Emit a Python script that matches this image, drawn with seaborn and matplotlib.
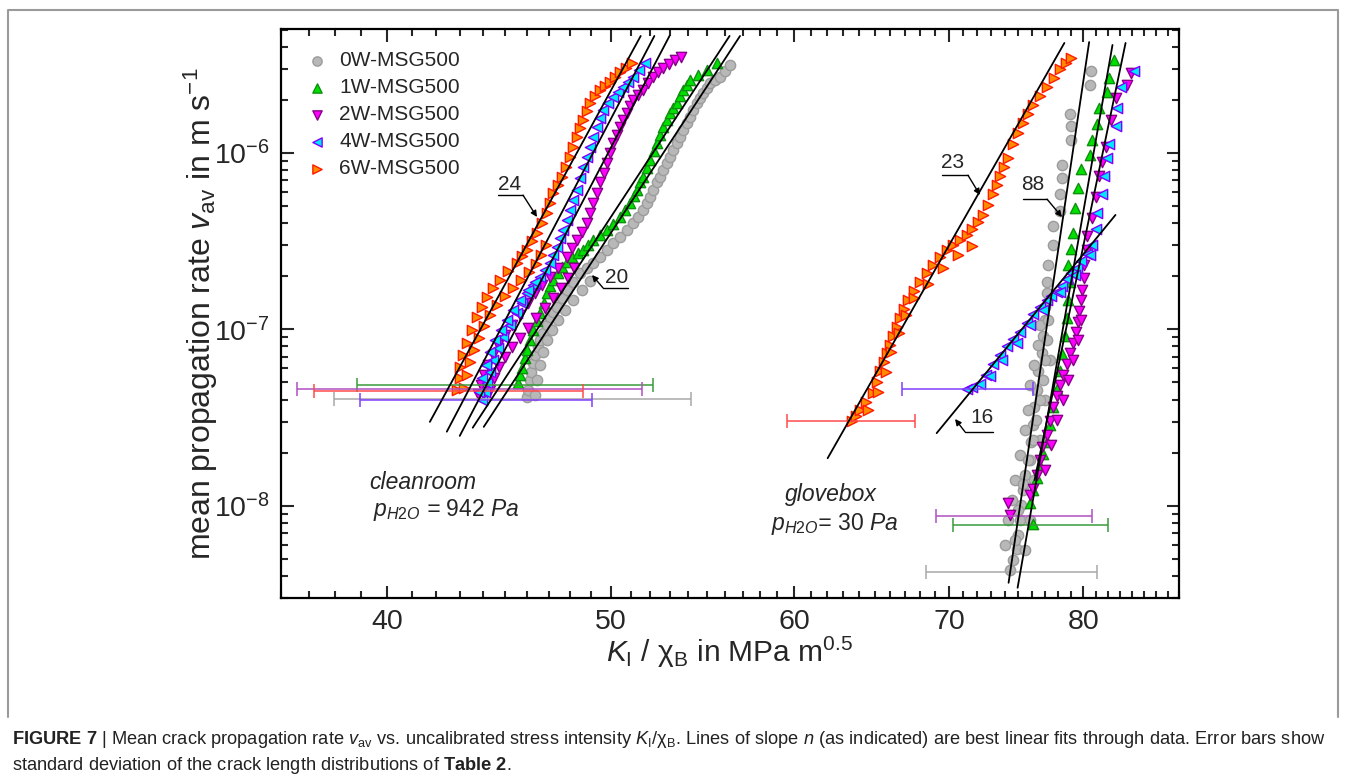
import numpy as np
import seaborn as sns
import matplotlib.pyplot as plt
from matplotlib.lines import Line2D
from matplotlib.ticker import FixedLocator, FixedFormatter, NullFormatter, LogLocator

# K_I / chi_B in MPa m^0.5 and v_av in m/s
# cleanroom, p_H2O = 942 Pa
k_c_0w = [45.98, 46.03, 46.12, 46.17, 46.26, 46.34, 46.48, 46.58, 46.72, 46.90, 47.04, 47.18, 47.37, 47.61,
          47.84, 48.13, 48.47, 48.81, 49.10, 49.44, 49.79, 50.08, 50.43, 50.78, 51.09, 51.35, 51.60, 51.81,
          51.96, 52.12, 52.33, 52.48, 52.64, 52.85, 53.00, 53.17, 53.38, 53.54, 53.70, 53.92, 54.07, 54.24,
          54.46, 54.61, 54.78, 55.00, 55.16, 55.44, 55.71, 55.98, 56.26,
          46.34, 46.44, 46.58, 46.72, 46.90, 47.14, 47.42, 47.74, 48.13, 48.56, 48.95]
v_c_0w = [4.15e-8, 4.54e-8, 5.18e-8, 5.74e-8, 6.46e-8, 7.17e-8, 7.97e-8, 8.72e-8, 9.55e-8, 1.06e-7, 1.18e-7,
          1.26e-7, 1.34e-7, 1.51e-7, 1.67e-7, 1.86e-7, 2.09e-7, 2.23e-7, 2.38e-7, 2.57e-7, 2.82e-7, 3.09e-7,
          3.34e-7, 3.66e-7, 4.01e-7, 4.34e-7, 4.75e-7, 5.21e-7, 5.63e-7, 6.2e-7, 6.8e-7, 7.3e-7, 8.0e-7,
          8.8e-7, 9.5e-7, 1.04e-6, 1.14e-6, 1.23e-6, 1.35e-6, 1.48e-6, 1.60e-6, 1.75e-6, 1.92e-6, 2.05e-6,
          2.19e-6, 2.33e-6, 2.49e-6, 2.59e-6, 2.70e-6, 2.92e-6, 3.15e-6,
          4.26e-8, 5.18e-8, 6.29e-8, 7.45e-8, 8.72e-8, 9.93e-8, 1.13e-7, 1.29e-7, 1.47e-7, 1.67e-7, 1.88e-7]
k_c_1w = [45.56, 45.66, 45.75, 45.88, 45.98, 46.12, 46.26, 46.44, 46.58, 46.76, 46.90, 47.04, 47.18, 47.42,
          47.61, 47.84, 48.08, 48.37, 48.61, 48.86, 49.10, 49.44, 49.79, 50.08, 50.43, 50.69, 50.94, 51.14,
          51.29, 51.44, 51.60, 51.81, 51.96, 52.17, 52.33, 52.48, 52.64, 52.85, 53.00, 53.17, 53.38, 53.54,
          53.70, 53.92, 54.07, 54.51, 55.00, 55.55]
v_c_1w = [4.98e-8, 5.52e-8, 6.05e-8, 6.89e-8, 7.66e-8, 8.72e-8, 9.93e-8, 1.12e-7, 1.24e-7, 1.41e-7, 1.61e-7,
          1.76e-7, 1.91e-7, 2.09e-7, 2.26e-7, 2.41e-7, 2.57e-7, 2.71e-7, 2.82e-7, 3.01e-7, 3.22e-7, 3.43e-7,
          3.66e-7, 3.96e-7, 4.34e-7, 4.75e-7, 5.21e-7, 5.71e-7, 6.2e-7, 6.8e-7, 7.3e-7, 8.22e-7, 9.1e-7,
          1.03e-6, 1.14e-6, 1.26e-6, 1.40e-6, 1.54e-6, 1.69e-6, 1.80e-6, 1.92e-6, 2.10e-6, 2.28e-6, 2.43e-6,
          2.59e-6, 2.77e-6, 2.95e-6, 3.24e-6]
k_c_2w = [43.79, 43.92, 44.05, 44.23, 44.45, 44.67, 44.98, 45.30, 45.66, 46.03, 46.34, 46.67, 47.04, 47.42,
          47.84, 48.08, 48.32, 48.56, 48.81, 48.95, 49.10, 49.29, 49.44, 49.63, 49.78, 49.93, 50.08, 50.28,
          50.43, 50.59, 50.78, 50.94, 51.09, 51.35, 51.60, 51.86, 52.12, 52.38, 52.64, 52.96, 53.28, 53.60,
          44.32, 44.49, 44.72, 44.98, 45.30, 45.66, 46.03, 46.39, 46.81, 47.18, 47.55, 47.89, 48.17]
v_c_2w = [4.31e-8, 4.85e-8, 5.52e-8, 6.29e-8, 7.17e-8, 8.17e-8, 9.31e-8, 1.06e-7, 1.21e-7, 1.41e-7, 1.61e-7,
          1.79e-7, 1.98e-7, 2.23e-7, 2.57e-7, 2.90e-7, 3.22e-7, 3.57e-7, 4.01e-7, 4.57e-7, 5.21e-7, 5.9e-7,
          6.8e-7, 7.70e-7, 8.8e-7, 1.0e-6, 1.14e-6, 1.26e-6, 1.40e-6, 1.54e-6, 1.69e-6, 1.85e-6, 2.00e-6,
          2.13e-6, 2.28e-6, 2.49e-6, 2.70e-6, 2.88e-6, 3.03e-6, 3.19e-6, 3.37e-6, 3.50e-6,
          4.54e-8, 5.31e-8, 6.13e-8, 6.98e-8, 7.97e-8, 8.95e-8, 1.02e-7, 1.16e-7, 1.32e-7, 1.51e-7, 1.72e-7,
          1.96e-7, 2.23e-7]
k_c_4w = [43.96, 44.09, 44.18, 44.32, 44.45, 44.67, 44.89, 45.21, 45.52, 45.75, 45.98, 46.25, 46.58, 46.81,
          47.04, 47.18, 47.37, 47.51, 47.65, 47.84, 47.98, 48.13, 48.32, 48.47, 48.61, 48.81, 48.95, 49.10,
          49.29, 49.44, 49.59, 49.84, 50.08, 50.33, 50.59, 50.84, 51.09, 51.40, 51.71,
          43.83, 43.96, 44.14, 44.32, 44.53, 44.80, 45.07, 45.34, 45.66, 46.03, 46.34]
v_c_4w = [3.99e-8, 4.42e-8, 4.98e-8, 5.74e-8, 6.72e-8, 7.86e-8, 9.07e-8, 1.06e-7, 1.24e-7, 1.41e-7, 1.61e-7,
          1.79e-7, 1.98e-7, 2.17e-7, 2.38e-7, 2.64e-7, 2.93e-7, 3.30e-7, 3.66e-7, 4.17e-7, 4.75e-7, 5.42e-7,
          6.2e-7, 7.2e-7, 8.3e-7, 9.5e-7, 1.08e-6, 1.23e-6, 1.40e-6, 1.58e-6, 1.75e-6, 1.92e-6, 2.08e-6,
          2.22e-6, 2.37e-6, 2.53e-6, 2.70e-6, 2.95e-6, 3.24e-6,
          4.42e-8, 5.31e-8, 6.29e-8, 7.45e-8, 8.72e-8, 9.93e-8, 1.13e-7, 1.29e-7, 1.47e-7, 1.67e-7, 1.86e-7]
k_c_6w = [42.88, 43.01, 43.01, 43.14, 43.32, 43.53, 43.75, 43.96, 44.18, 44.45, 44.76, 45.12, 45.52, 45.75,
          45.98, 46.21, 46.44, 46.67, 46.90, 47.04, 47.18, 47.42, 47.61, 47.80, 47.98, 48.13, 48.32, 48.47,
          48.61, 48.81, 48.95, 49.20, 49.44, 49.69, 49.93, 50.18, 50.43, 50.73, 51.04,
          43.18, 43.32, 43.44, 43.61, 43.83, 44.05, 44.32, 44.62, 44.98, 45.34, 45.70, 46.07, 46.39, 46.62,
          46.86]
v_c_6w = [4.54e-8, 5.31e-8, 6.13e-8, 7.17e-8, 8.39e-8, 9.93e-8, 1.18e-7, 1.34e-7, 1.53e-7, 1.72e-7, 1.91e-7,
          2.14e-7, 2.38e-7, 2.61e-7, 2.82e-7, 3.17e-7, 3.52e-7, 4.01e-7, 4.57e-7, 5.21e-7, 5.9e-7, 6.59e-7,
          7.3e-7, 8.3e-7, 9.5e-7, 1.08e-6, 1.23e-6, 1.38e-6, 1.54e-6, 1.73e-6, 1.92e-6, 2.10e-6, 2.28e-6,
          2.40e-6, 2.53e-6, 2.70e-6, 2.88e-6, 3.03e-6, 3.24e-6,
          4.66e-8, 5.52e-8, 6.54e-8, 7.66e-8, 8.95e-8, 1.05e-7, 1.21e-7, 1.38e-7, 1.55e-7, 1.72e-7, 1.91e-7,
          2.12e-7, 2.35e-7, 2.64e-7, 3.01e-7]

# glovebox, p_H2O = 30 Pa
k_g_0w = [74.35, 74.57, 74.86, 74.94, 75.09, 75.23, 75.31, 75.53, 75.84, 75.98, 76.07, 76.21, 76.37, 76.51,
          76.75, 76.83, 76.98, 76.98, 77.13, 77.13, 77.21, 77.59, 77.59, 78.14, 78.14, 78.29, 78.29, 79.07,
          79.07, 78.92, 80.50, 80.66,
          73.97, 74.20, 74.49, 74.72, 75.09, 75.46, 75.69, 75.84, 76.21, 76.44, 76.60,
          75.46, 75.84, 76.21, 76.60, 76.98, 77.36,
          74.72, 74.94, 75.31, 75.69, 76.07, 76.29, 76.60, 76.83, 76.98, 77.13, 77.21]
v_g_0w = [4.34e-9, 4.94e-9, 5.70e-9, 6.85e-9, 8.33e-9, 1.01e-8, 1.23e-8, 1.50e-8, 1.82e-8, 2.31e-8, 2.88e-8,
          3.64e-8, 4.54e-8, 5.82e-8, 7.36e-8, 9.19e-8, 1.13e-7, 1.34e-7, 1.61e-7, 1.86e-7, 2.32e-7, 3.01e-7,
          3.86e-7, 4.69e-7, 5.86e-7, 7.2e-7, 8.55e-7, 1.19e-6, 1.42e-6, 1.66e-6, 2.43e-6, 2.92e-6,
          6.01e-9, 8.33e-9, 1.08e-8, 1.40e-8, 1.95e-8, 2.70e-8, 3.50e-8, 4.85e-8, 6.29e-8, 8.17e-8, 1.06e-7,
          5.63e-9, 8.33e-9, 1.40e-8, 2.37e-8, 3.99e-8, 6.72e-8,
          6.42e-9, 9.49e-9, 1.32e-8, 1.82e-8, 2.37e-8, 3.07e-8, 3.99e-8, 5.18e-8, 6.72e-8, 8.72e-8, 1.13e-7]
k_g_1w = [76.07, 75.84, 76.07, 76.37, 76.60, 76.83, 77.13, 77.36, 77.59, 77.90, 78.14, 78.29, 78.53, 78.68,
          78.76, 78.92, 78.76, 79.00, 79.15, 79.31, 79.62, 79.86, 80.50, 80.74, 81.14, 81.30, 81.95, 82.11,
          82.52]
v_g_1w = [7.9e-9, 1.03e-8, 1.23e-8, 1.44e-8, 1.68e-8, 1.97e-8, 2.31e-8, 2.88e-8, 3.64e-8, 4.60e-8, 5.82e-8,
          7.26e-8, 9.19e-8, 1.16e-7, 1.47e-7, 1.86e-7, 2.32e-7, 2.86e-7, 3.52e-7, 4.88e-7, 6.33e-7, 8.1e-7,
          9.7e-7, 1.19e-6, 1.46e-6, 1.80e-6, 2.22e-6, 2.66e-6, 3.37e-6]
k_g_2w = [74.20, 74.35, 75.84, 76.07, 76.37, 76.60, 76.82, 77.13, 77.36, 77.59, 77.90, 78.14, 78.37, 78.68,
          78.92, 79.15, 79.39, 79.55, 79.70, 79.86, 79.94, 80.10, 80.10, 80.26, 80.26, 80.74, 81.06, 81.30,
          81.54, 81.87, 82.28, 82.69, 83.52, 83.93,
          76.98, 77.51, 77.90, 78.37, 78.76, 79.15, 79.55, 79.86]
v_g_2w = [1.03e-8, 8.9e-9, 1.15e-8, 1.25e-8, 1.50e-8, 1.82e-8, 2.16e-8, 2.52e-8, 3.03e-8, 3.64e-8, 4.20e-8,
          4.85e-8, 5.52e-8, 6.38e-8, 7.36e-8, 8.39e-8, 9.68e-8, 1.10e-7, 1.27e-7, 1.47e-7, 1.67e-7, 1.96e-7,
          2.32e-7, 2.82e-7, 3.39e-7, 4.28e-7, 5.63e-7, 7.4e-7, 8.9e-7, 1.08e-6, 1.54e-6, 2.05e-6, 2.43e-6,
          2.84e-6,
          1.60e-8, 2.22e-8, 3.07e-8, 3.99e-8, 5.18e-8, 6.72e-8, 8.72e-8, 1.13e-7]
k_g_4w = [71.23, 71.58, 72.16, 72.59, 73.10, 73.61, 74.12, 74.57, 75.09, 75.61, 76.07, 76.60, 77.13, 77.51,
          77.90, 78.29, 78.68, 79.07, 79.47, 79.86, 80.26, 80.74, 81.06, 81.14, 81.54, 81.71, 81.95, 82.11,
          82.69, 82.77, 83.10, 84.18,
          72.88, 73.82, 74.86, 75.84, 76.83, 78.14, 79.31, 80.50]
v_g_4w = [4.60e-8, 4.72e-8, 4.91e-8, 5.52e-8, 6.38e-8, 7.17e-8, 8.07e-8, 8.84e-8, 9.68e-8, 1.09e-7, 1.22e-7,
          1.34e-7, 1.47e-7, 1.55e-7, 1.63e-7, 1.76e-7, 1.93e-7, 2.09e-7, 2.23e-7, 2.44e-7, 2.68e-7, 3.01e-7,
          3.71e-7, 4.57e-7, 5.86e-7, 7.4e-7, 9.4e-7, 1.12e-6, 1.42e-6, 1.80e-6, 2.37e-6, 2.92e-6,
          5.45e-8, 6.72e-8, 8.39e-8, 1.06e-7, 1.29e-7, 1.63e-7, 2.04e-7, 2.64e-7]
k_g_6w = [63.53, 63.78, 64.04, 64.42, 64.87, 65.13, 65.32, 65.58, 65.78, 65.98, 66.17, 66.44, 66.64, 66.90,
          67.17, 67.57, 67.97, 68.45, 68.86, 69.34, 69.82, 70.24, 70.73, 71.23, 71.65, 72.01, 72.37, 72.73,
          73.10, 73.39, 73.61, 73.90, 74.20, 74.57, 74.94, 75.31, 75.69, 76.07, 76.60, 77.13, 77.67, 78.14,
          78.60, 79.07,
          64.55, 65.19, 65.71, 66.10, 66.57, 67.03, 67.63, 68.52, 69.55, 70.59, 71.58]
v_g_6w = [3.03e-8, 3.24e-8, 3.50e-8, 3.88e-8, 4.37e-8, 5.04e-8, 5.82e-8, 6.54e-8, 7.36e-8, 8.17e-8, 9.19e-8,
          1.03e-7, 1.16e-7, 1.31e-7, 1.47e-7, 1.65e-7, 1.86e-7, 2.09e-7, 2.32e-7, 2.57e-7, 2.82e-7, 3.01e-7,
          3.22e-7, 3.43e-7, 3.71e-7, 4.06e-7, 4.45e-7, 5.07e-7, 5.86e-7, 6.59e-7, 7.4e-7, 8.3e-7, 9.4e-7,
          1.12e-6, 1.30e-6, 1.48e-6, 1.66e-6, 1.87e-6, 2.10e-6, 2.37e-6, 2.66e-6, 2.99e-6, 3.24e-6, 3.45e-6,
          3.50e-8, 4.42e-8, 5.74e-8, 7.45e-8, 9.55e-8, 1.21e-7, 1.51e-7, 1.81e-7, 2.23e-7, 2.64e-7, 2.97e-7]

samples = ['0W-MSG500', '1W-MSG500', '2W-MSG500', '4W-MSG500', '6W-MSG500']
k_clean = [k_c_0w, k_c_1w, k_c_2w, k_c_4w, k_c_6w]
v_clean = [v_c_0w, v_c_1w, v_c_2w, v_c_4w, v_c_6w]
k_glove = [k_g_0w, k_g_1w, k_g_2w, k_g_4w, k_g_6w]
v_glove = [v_g_0w, v_g_1w, v_g_2w, v_g_4w, v_g_6w]

# error bars (mean K, std of K) at the start of each run: cleanroom then glovebox
err_k = [46.04, 45.48, 44.07, 44.00, 42.90, 74.76, 76.10, 74.87, 71.42, 63.60]
err_sd = [8.09, 6.66, 7.50, 5.07, 5.70, 6.38, 5.86, 5.80, 4.65, 4.04]
err_v = [4.04e-8, 4.85e-8, 4.60e-8, 3.99e-8, 4.49e-8, 4.23e-9, 7.8e-9, 8.7e-9, 4.60e-8, 3.03e-8]

# best fit lines: slope n, start point (k0, v0), end velocity v1
fit_n = [24, 25, 25, 20, 20, 23, 88, 75, 63, 16]
fit_k0 = [41.75, 42.46, 43.01, 43.57, 44.05, 62.03, 74.27, 74.94, 76.22, 69.14]
fit_v0 = [2.99e-8, 2.63e-8, 2.49e-8, 2.77e-8, 2.80e-8, 1.86e-8, 3.66e-9, 3.43e-9, 1.40e-8, 2.58e-8]
fit_v1 = [4.6e-6, 4.6e-6, 4.6e-6, 4.6e-6, 4.6e-6, 4.2e-6, 4.25e-6, 4.09e-6, 4.2e-6, 4.45e-7]

markers = ['o', '^', 'v', '<', '>']
face = ['#b8b8b8', '#00e000', '#ff00ff', '#00e8ff', '#ff8c00']
edge = ['#9c9c9c', '#109010', '#880088', '#7f00ff', '#ff1a00']
bar_col = ['#a8a8a8', '#3a9a3a', '#b050c0', '#8040ff', '#ff4a4a']

sns.set_style('ticks')
plt.rcParams['font.family'] = ['Liberation Sans', 'DejaVu Sans']
plt.rcParams['mathtext.fontset'] = 'custom'
plt.rcParams['mathtext.rm'] = 'Liberation Sans'
plt.rcParams['mathtext.it'] = 'Liberation Sans:italic'
plt.rcParams['mathtext.bf'] = 'Liberation Sans:bold'
plt.rcParams['axes.unicode_minus'] = False

fig = plt.figure(figsize=(13.46, 7.83), dpi=100)
ax = fig.add_axes([281 / 1346, 1 - 598 / 783, 898 / 1346, 569 / 783])
ax.set_xscale('log')
ax.set_yscale('log')

for i, name in enumerate(samples):
    k = np.concatenate([k_clean[i], k_glove[i]])
    v = np.concatenate([v_clean[i], v_glove[i]])
    sns.scatterplot(x=k, y=v, marker=markers[i], s=55, color=face[i], edgecolor=edge[i],
                    linewidth=1.0, label=name, ax=ax, zorder=3)

for j in range(len(err_k)):
    c = bar_col[j % 5]
    ax.errorbar(err_k[j], err_v[j], xerr=err_sd[j], fmt='none', ecolor=c, elinewidth=1.1,
                capsize=5, capthick=1.1, zorder=4)

for n, k0, v0, v1 in zip(fit_n, fit_k0, fit_v0, fit_v1):
    k1 = k0 * (v1 / v0) ** (1.0 / n)
    ax.plot([k0, k1], [v0, v1], color='black', lw=1.3, zorder=5)

ax.set_xlim(36, 88)
ax.set_ylim(3.0e-9, 5.04e-6)
ax.xaxis.set_major_locator(FixedLocator([40, 50, 60, 70, 80]))
ax.xaxis.set_major_formatter(FixedFormatter(['40', '50', '60', '70', '80']))
ax.xaxis.set_minor_locator(FixedLocator(np.arange(36, 89)))
ax.xaxis.set_minor_formatter(NullFormatter())
ax.yaxis.set_major_locator(LogLocator(base=10, numticks=10))
ax.yaxis.set_minor_locator(LogLocator(base=10, subs=np.arange(2, 10), numticks=10))
ax.yaxis.set_minor_formatter(NullFormatter())
ax.tick_params(which='both', direction='in', top=True, right=True, width=1.5, labelsize=20.5, pad=8)
ax.tick_params(which='major', length=9)
ax.tick_params(which='minor', length=5)
for s in ax.spines.values():
    s.set_linewidth(1.6)
    s.set_color('black')

ax.set_xlabel(r'$\mathit{K}_{\mathrm{I}}$ / χ$_{\mathrm{B}}$ in MPa m$^{0.5}$', fontsize=21.5, labelpad=0)
ax.set_ylabel(r'mean propagation rate $\mathit{v}_{\mathrm{av}}$ in m s$^{-1}$', fontsize=23, labelpad=-4)

leg = ax.legend(loc='upper left', bbox_to_anchor=(0.0, 0.998), frameon=False, fontsize=15,
                handletextpad=0.3, labelspacing=0.39, borderaxespad=0.6, handlelength=1.5,
                markerscale=0.9)

# slope labels with leader arrows (axes fraction)
slope_lab = ['24', '20', '23', '88', '16']
lab_xy = [(0.255, 0.726), (0.374, 0.564), (0.748, 0.766), (0.837, 0.726), (0.781, 0.317)]
under = [(0.2416, 0.2695, 0.708), (0.3586, 0.3864, 0.545), (0.7361, 0.7650, 0.743),
         (0.8263, 0.8530, 0.701), (0.7617, 0.7929, 0.292)]
elbow_right = [True, False, True, True, False]
tips = [(0.2851, 0.6696), (0.3463, 0.5677), (0.7784, 0.7083), (0.8697, 0.6696), (0.7506, 0.3146)]
for t, (tx, ty), (u0, u1, uy), er, tip in zip(slope_lab, lab_xy, under, elbow_right, tips):
    ax.text(tx, ty, t, transform=ax.transAxes, ha='center', va='center', fontsize=15, zorder=6)
    ax.plot([u0, u1], [uy, uy], transform=ax.transAxes, color='black', lw=1.0, zorder=6)
    ax.annotate('', xy=tip, xycoords='axes fraction', xytext=(u1 if er else u0, uy),
                textcoords='axes fraction',
                arrowprops=dict(arrowstyle='-|>', color='black', lw=1.0, mutation_scale=9,
                                shrinkA=0, shrinkB=0), zorder=6)

ax.text(0.158, 0.203, 'cleanroom', transform=ax.transAxes, ha='center', va='center',
        fontsize=16.5, style='italic')
ax.text(0.184, 0.155, r'$\mathit{p}_{\mathit{H2O}}$ = $\mathit{942\ Pa}$', transform=ax.transAxes,
        ha='center', va='center', fontsize=16.5, style='italic')
ax.text(0.612, 0.182, 'glovebox', transform=ax.transAxes, ha='center', va='center',
        fontsize=16.5, style='italic')
ax.text(0.617, 0.130, r'$\mathit{p}_{\mathit{H2O}}$= $\mathit{30\ Pa}$', transform=ax.transAxes,
        ha='center', va='center', fontsize=16.5, style='italic')

# outer frame
fc = '#9a9a9a'
fig.add_artist(Line2D([8 / 1346, 8 / 1346, 1338 / 1346, 1338 / 1346],
                      [1 - 717 / 783, 1 - 10 / 783, 1 - 10 / 783, 1 - 717 / 783],
                      transform=fig.transFigure, color=fc, lw=1.5))

cap1 = (r'$\mathbf{FIGURE\ 7}$ | Mean crack propagation rate $\mathit{v}_{\mathrm{av}}$ vs. uncalibrated '
        r'stress intensity $\mathit{K}_{\mathrm{I}}$/χ$_{\mathrm{B}}$. Lines of slope $\mathit{n}$ '
        r'(as indicated) are best linear fits through data. Error bars show')
cap2 = r'standard deviation of the crack length distributions of $\mathbf{Table\ 2}$.'
t1 = fig.text(12 / 1346, 1 - 740 / 783, cap1, ha='left', va='center', fontsize=10.5, color='#222222')
t2 = fig.text(12 / 1346, 1 - 766 / 783, cap2, ha='left', va='center', fontsize=10.5, color='#222222')
# widen the caption to span the frame like the original
fig.canvas.draw()
w = t1.get_window_extent().width
fs = 10.5 * 1322 / w
t1.set_fontsize(fs)
t2.set_fontsize(fs)

fig.savefig('out.png', dpi=100)
